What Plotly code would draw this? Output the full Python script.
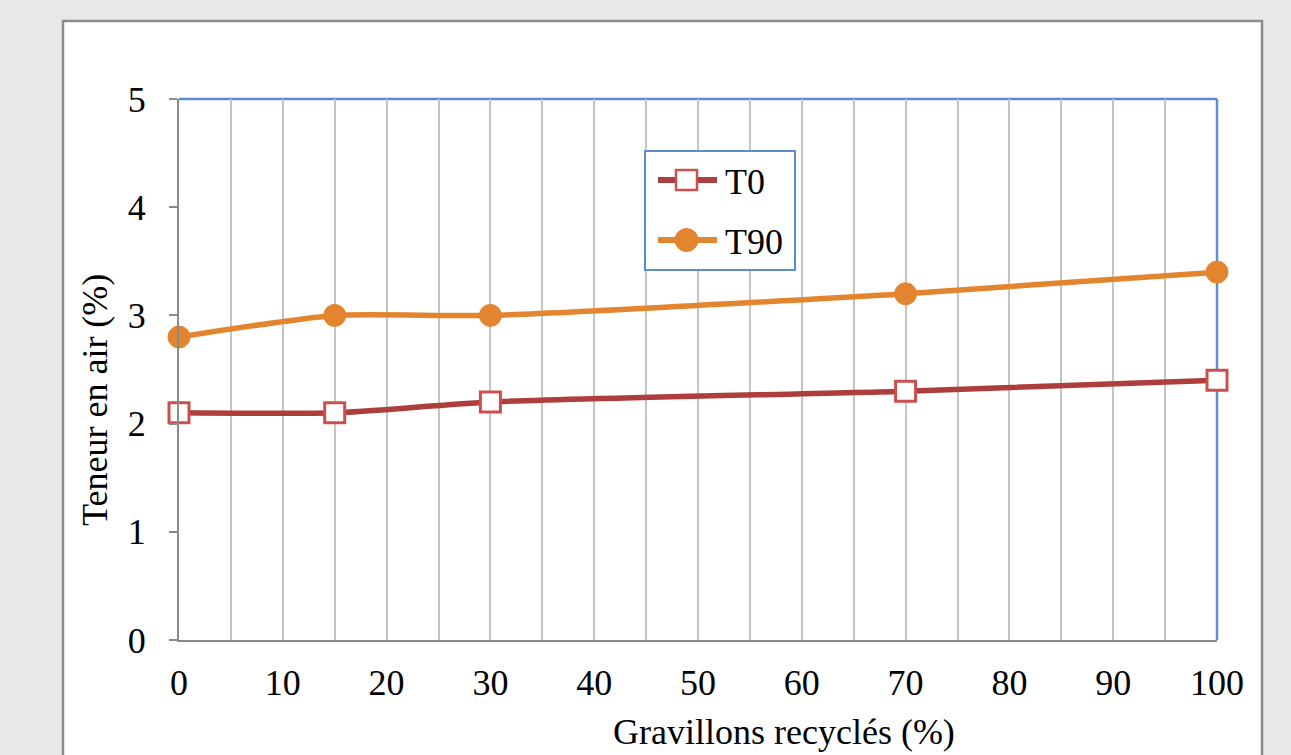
import plotly.graph_objects as go

x_vals = [0, 15, 30, 70, 100]
t0_vals = [2.1, 2.1, 2.2, 2.3, 2.4]
t90_vals = [2.8, 3.0, 3.0, 3.2, 3.4]
x_ticks = [0, 10, 20, 30, 40, 50, 60, 70, 80, 90, 100]
y_ticks = [0, 1, 2, 3, 4, 5]
series_names = ["T0", "T90"]

FONT = "Liberation Serif, Times New Roman, serif"
FS = 36
W, H = 1291, 755
L, R, T, B = 179, 1291 - 1217, 99, 755 - 640
pw, ph = W - L - R, H - T - B

C_T0_LINE = "#ad3e3b"
C_T0_MARK = "#c9504d"
C_T90 = "#e3852f"
C_BLUE = "#5f8dca"
C_AXIS = "#8a8a8a"
C_GRID = "#c4c4c4"


def px2x(p):
    return (p - L) / pw


def px2y(p):
    return (H - B - p) / ph


fig = go.Figure()
fig.add_trace(go.Scatter(
    x=x_vals, y=t0_vals, name=series_names[0], mode="lines+markers",
    line=dict(color=C_T0_LINE, width=5.5, shape="spline", smoothing=0.6),
    marker=dict(symbol="square", size=20, color="white",
                line=dict(color=C_T0_MARK, width=3)),
    cliponaxis=False,
))
fig.add_trace(go.Scatter(
    x=x_vals, y=t90_vals, name=series_names[1], mode="lines+markers",
    line=dict(color=C_T90, width=5.5, shape="spline", smoothing=0.6),
    marker=dict(symbol="circle", size=22, color=C_T90,
                line=dict(color=C_T90, width=1)),
    cliponaxis=False,
))

shapes = [
    # white chart panel with grey frame
    dict(type="rect", xref="paper", yref="paper", layer="below",
         x0=px2x(63), x1=px2x(1262), y0=px2y(800), y1=px2y(21),
         line=dict(color="#8c8c8c", width=2.5), fillcolor="white"),
    # blue top / right plot border
    dict(type="line", xref="paper", yref="paper", layer="below",
         x0=0, x1=1, y0=1, y1=1, line=dict(color=C_BLUE, width=2.5)),
    dict(type="line", xref="paper", yref="paper", layer="below",
         x0=1, x1=1, y0=0, y1=1, line=dict(color=C_BLUE, width=2.5)),
    # legend box
    dict(type="rect", xref="paper", yref="paper", layer="above",
         x0=px2x(645), x1=px2x(795), y0=px2y(270), y1=px2y(151),
         line=dict(color=C_BLUE, width=2), fillcolor="white"),
    # legend T0 line + marker
    dict(type="line", xref="paper", yref="paper", layer="above",
         x0=px2x(658), x1=px2x(717), y0=px2y(180), y1=px2y(180),
         line=dict(color=C_T0_LINE, width=6)),
    dict(type="rect", xref="paper", yref="paper", layer="above",
         x0=px2x(676), x1=px2x(697), y0=px2y(190), y1=px2y(170),
         line=dict(color=C_T0_MARK, width=2.5), fillcolor="white"),
    # legend T90 line + marker
    dict(type="line", xref="paper", yref="paper", layer="above",
         x0=px2x(658), x1=px2x(717), y0=px2y(240), y1=px2y(240),
         line=dict(color=C_T90, width=6)),
    dict(type="circle", xref="paper", yref="paper", layer="above",
         x0=px2x(675), x1=px2x(698), y0=px2y(251.5), y1=px2y(228.5),
         line=dict(color=C_T90, width=1), fillcolor=C_T90),
]

annotations = [
    dict(text="Teneur en air (%)", xref="paper", yref="paper",
         x=px2x(95), y=px2y(400), xanchor="center", yanchor="middle",
         textangle=-90, showarrow=False, font=dict(family=FONT, size=FS, color="black")),
    dict(text="Gravillons recyclés (%)", xref="paper", yref="paper",
         x=px2x(784), y=px2y(732), xanchor="center", yanchor="middle",
         showarrow=False, font=dict(family=FONT, size=FS, color="black")),
    dict(text=series_names[0], xref="paper", yref="paper",
         x=px2x(723), y=px2y(182), xanchor="left", yanchor="middle",
         showarrow=False, font=dict(family=FONT, size=FS, color="black")),
    dict(text=series_names[1], xref="paper", yref="paper",
         x=px2x(723), y=px2y(242), xanchor="left", yanchor="middle",
         showarrow=False, font=dict(family=FONT, size=FS, color="black")),
]

fig.update_layout(
    width=W, height=H,
    margin=dict(l=L, r=R, t=T, b=B, pad=0, autoexpand=False),
    paper_bgcolor="#e8e8e8",
    plot_bgcolor="white",
    font=dict(family=FONT, size=FS, color="black"),
    showlegend=False,
    xaxis=dict(
        range=[0, 100], tickvals=x_ticks, ticks="", showline=True,
        linecolor=C_AXIS, linewidth=2, showgrid=True,
        gridcolor=C_GRID, gridwidth=2, zeroline=False,
        minor=dict(dtick=5, tick0=0, showgrid=True, gridcolor=C_GRID, gridwidth=2),
        ticklabelstandoff=10, automargin=False, fixedrange=True,
    ),
    yaxis=dict(
        range=[0, 5], tickvals=y_ticks, ticks="outside", ticklen=8,
        tickcolor=C_AXIS, tickwidth=2, showline=True,
        linecolor=C_AXIS, linewidth=2, showgrid=False, zeroline=False,
        ticklabelstandoff=16, automargin=False, fixedrange=True,
    ),
    shapes=shapes,
    annotations=annotations,
)

fig.write_html("out.html")
